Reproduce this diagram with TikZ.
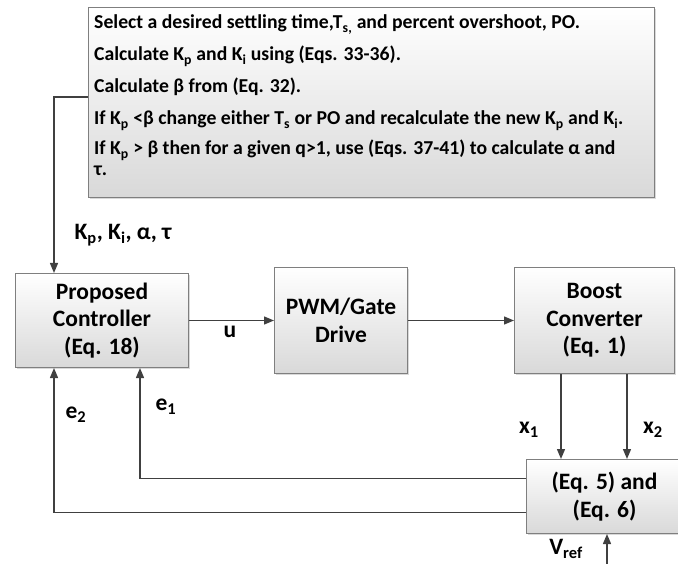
\documentclass[tikz,border=0pt]{standalone}
\usepackage{fontspec}
\setmainfont{Carlito}
\usetikzlibrary{arrows.meta,positioning,shadows}
\definecolor{boxedge}{HTML}{7F7F7F}
\definecolor{wire}{HTML}{404040}
\newcommand{\blocksize}{\fontsize{23.5}{27.5}\selectfont}
\newcommand{\notesize}{\fontsize{19.7}{21}\selectfont}
\tikzset{
  box/.style   = {draw=boxedge, line width=1pt, top color=white, bottom color=black!15,
                  drop shadow={shadow xshift=1.5pt, shadow yshift=-1.5pt, opacity=0.3},
                  align=center, inner sep=2pt, font=\blocksize\bfseries},
  notetext/.style = {inner sep=0pt, font=\notesize\bfseries},
  ar/.style    = {draw=wire, line width=1.4pt, -{Triangle[length=10pt,width=8pt]}},
  lbl/.style   = {inner sep=1pt, font=\blocksize\bfseries},
}

\begin{document}
\begin{tikzpicture}[x=1pt, y=-1pt]
  \useasboundingbox (0,0) rectangle (678,564);
  % design steps
  \node[box, anchor=north west, minimum width=566pt, minimum height=190pt] (steps) at (88,7) {};
  \foreach \i/\yy/\txt in {
      1/29/{Select a desired settling time,T\textsubscript{s,} and percent overshoot, PO.},
      2/61/{Calculate K\textsubscript{p} and K\textsubscript{i} using (Eqs. 33-36).},
      3/93/{Calculate β from (Eq. 32).},
      4/125/{If K\textsubscript{p} <β change either T\textsubscript{s} or PO and recalculate the new K\textsubscript{p} and K\textsubscript{i}.},
      5/155/{If K\textsubscript{p} > β then for a given q>1, use (Eqs. 37-41) to calculate α and},
      6/176/{τ.}}
    \node[notetext, anchor=base west] (s\i) at (94,\yy) {\txt};

  % loop blocks
  \node[box, anchor=north west, minimum width=173pt, minimum height=94pt] (ctrl) at (15,273)
    {Proposed\\Controller\\(Eq. 18)};
  \node[box, anchor=north west, minimum width=133pt, minimum height=106pt] (pwm) at (274,267)
    {PWM/Gate\\Drive};
  \node[box, anchor=north west, minimum width=160pt, minimum height=106pt] (boost) at (514,267)
    {Boost\\Converter\\(Eq. 1)};
  \node[box, anchor=north west, minimum width=156pt, minimum height=74pt] (err) at (526,459)
    {(Eq. 5) and\\(Eq. 6)};

  % connectors
  \draw[ar] (steps.west |- 0,97) -| ([xshift=39pt]ctrl.north west);
  \draw[ar] (ctrl) -- (pwm);
  \draw[ar] (pwm) -- (boost);
  \draw[ar] ([xshift=47pt]boost.south west) -- ([xshift=47pt]boost.south west |- err.north);
  \draw[ar] ([xshift=113pt]boost.south west) -- ([xshift=113pt]boost.south west |- err.north);
  \draw[ar] ([yshift=18pt]err.west) -| ([xshift=125pt]ctrl.south west);
  \draw[ar] ([yshift=-16pt]err.west) -| ([xshift=39pt]ctrl.south west);
  \coordinate (vin) at (607,570);
  \draw[ar] (vin) -- (vin |- err.south);

  % signal names
  \node[lbl] (gains) at (123,235) {K\textsubscript{p}, K\textsubscript{i}, α, τ};
  \node[lbl] (u) at (230,332) {u};
  \node[lbl] (e2) at (76,415) {e\textsubscript{2}};
  \node[lbl] (e1) at (166,407) {e\textsubscript{1}};
  \node[lbl] (x1) at (529,430) {x\textsubscript{1}};
  \node[lbl] (x2) at (653,430) {x\textsubscript{2}};
  \node[lbl] (vref) at (566,549) {V\textsubscript{ref}};
\end{tikzpicture}
\end{document}
